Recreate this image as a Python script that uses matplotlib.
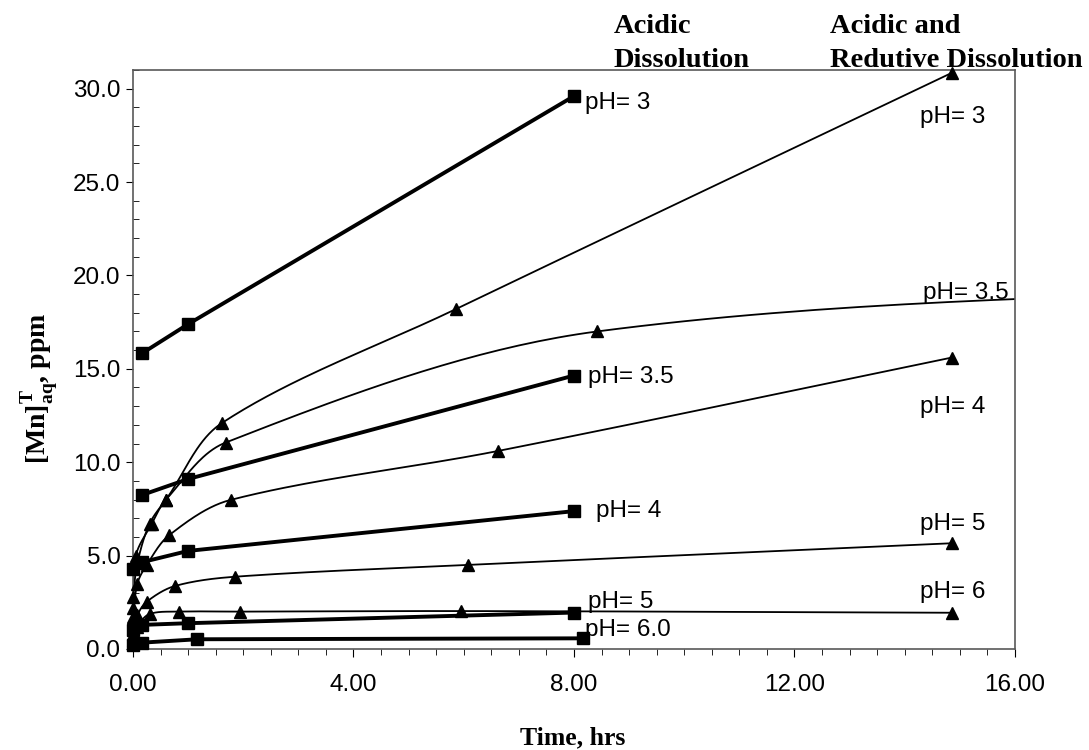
import numpy as np
import matplotlib.pyplot as plt
from matplotlib.ticker import MultipleLocator, FormatStrFormatter

plt.rcParams['mathtext.fontset'] = 'custom'
plt.rcParams['mathtext.rm'] = 'Liberation Serif:bold'

# --- DATA: acidic dissolution (squares, thick lines) ---
sq_x_3 = [0.17, 1.0, 8.0]
sq_y_3 = [15.84, 17.39, 29.6]
sq_x_35 = [0.17, 1.0, 8.0]
sq_y_35 = [8.25, 9.1, 14.64]
sq_x_4 = [0.0, 0.17, 1.0, 8.0]
sq_y_4 = [4.3, 4.65, 5.25, 7.38]
sq_x_5 = [0.0, 0.17, 1.0, 8.0]
sq_y_5 = [1.0, 1.29, 1.38, 1.95]
sq_x_6 = [0.0, 0.17, 1.17, 8.16]
sq_y_6 = [0.2, 0.34, 0.52, 0.57]

# --- DATA: acidic and reductive dissolution (triangles, thin smooth lines) ---
tr_x_3 = [0.0, 0.08, 0.3, 0.6, 1.61, 5.86, 14.85]
tr_y_3 = [2.8, 4.6, 6.7, 8.0, 12.09, 18.2, 30.84]
tr_x_35 = [0.0, 0.05, 0.34, 0.6, 1.68, 8.42, 24.0]
tr_y_35 = [2.2, 4.98, 6.7, 8.0, 11.05, 17.0, 19.7]
tr_x_4 = [0.0, 0.08, 0.25, 0.66, 1.77, 6.62, 14.85]
tr_y_4 = [1.7, 3.5, 4.5, 6.1, 7.98, 10.6, 15.6]
tr_x_5 = [0.0, 0.08, 0.25, 0.76, 1.86, 6.08, 14.85]
tr_y_5 = [0.8, 1.8, 2.53, 3.37, 3.87, 4.5, 5.66]
tr_x_6 = [0.0, 0.08, 0.3, 0.84, 1.95, 5.95, 14.85]
tr_y_6 = [0.5, 1.2, 1.87, 2.0, 2.0, 2.03, 1.94]

sq_labels = ["pH= 3", "pH= 3.5", "pH= 4", "pH= 5", "pH= 6.0"]
tr_labels = ["pH= 3", "pH= 3.5", "pH= 4", "pH= 5", "pH= 6"]

x_ticks = [0, 4, 8, 12, 16]
y_ticks = [0, 5, 10, 15, 20, 25, 30]


def smooth(x, y, n=40, sx=55.1, sy=18.67):
    # cubic Bezier smoothing with chord-weighted tangents (distances in pixel-ish units)
    p = np.column_stack([np.asarray(x, float) * sx, np.asarray(y, float) * sy])
    p = np.vstack([p[0], p, p[-1]])
    t = np.linspace(0, 1, n)[:, None]
    out = []
    for i in range(1, len(p) - 2):
        p0, p1, p2, p3 = p[i - 1], p[i], p[i + 1], p[i + 2]
        d01 = np.hypot(*(p1 - p0)) + 1e-9
        d12 = np.hypot(*(p2 - p1)) + 1e-9
        d23 = np.hypot(*(p3 - p2)) + 1e-9
        c1 = p1 + (p2 - p0) * d12 / (3 * (d01 + d12))
        c2 = p2 - (p3 - p1) * d12 / (3 * (d12 + d23))
        b = (1 - t) ** 3 * p1 + 3 * (1 - t) ** 2 * t * c1 + 3 * (1 - t) * t ** 2 * c2 + t ** 3 * p2
        out.append(b)
    b = np.vstack(out)
    return b[:, 0] / sx, b[:, 1] / sy


fig = plt.figure(figsize=(10.89, 7.5), dpi=100)
ax = fig.add_axes([0.1221, 0.1347, 0.932 - 0.1221, 0.9067 - 0.1347])

sq_series = [(sq_x_3, sq_y_3), (sq_x_35, sq_y_35), (sq_x_4, sq_y_4),
             (sq_x_5, sq_y_5), (sq_x_6, sq_y_6)]
tr_series = [(tr_x_3, tr_y_3), (tr_x_35, tr_y_35), (tr_x_4, tr_y_4),
             (tr_x_5, tr_y_5), (tr_x_6, tr_y_6)]

for x, y in tr_series:
    sx, sy = smooth(x, y)
    ax.plot(sx, sy, color='black', lw=1.3, zorder=2, clip_on=True)
    ax.plot(x, y, ls='none', marker='^', ms=8, color='black', zorder=3, clip_on=False)

for x, y in sq_series:
    ax.plot(x, y, color='black', lw=2.8, marker='s', ms=8, zorder=4, clip_on=False)

# series labels
lab_font = dict(fontsize=17.5, family='Liberation Sans', va='center')
sq_lab_pos = [(8.2, 29.25), (8.25, 14.55), (8.4, 7.4), (8.25, 2.5), (8.2, 1.0)]
for (lx, ly), t in zip(sq_lab_pos, sq_labels):
    ax.text(lx, ly, t, ha='left', **lab_font)
tr_lab_pos = [(14.87, 28.5), (15.1, 19.05), (14.87, 12.95), (14.87, 6.7), (14.87, 3.05)]
for (lx, ly), t in zip(tr_lab_pos, tr_labels):
    ax.text(lx, ly, t, ha='center', **lab_font)

ax.set_xlim(0, 16)
ax.set_ylim(0, 31)
ax.set_xticks(x_ticks)
ax.set_yticks(y_ticks)
ax.xaxis.set_major_formatter(FormatStrFormatter('%.2f'))
ax.yaxis.set_major_formatter(FormatStrFormatter('%.1f'))
ax.xaxis.set_minor_locator(MultipleLocator(0.5))
ax.yaxis.set_minor_locator(MultipleLocator(1))
ax.tick_params(which='both', labelsize=17.5, color='black')
ax.tick_params(axis='x', which='major', direction='out', length=6, pad=12)
ax.tick_params(axis='x', which='minor', direction='out', length=4)
ax.tick_params(axis='y', which='major', direction='out', length=5, pad=4)
ax.tick_params(axis='y', which='minor', direction='in', length=4)
for lab in ax.get_xticklabels() + ax.get_yticklabels():
    lab.set_family('Liberation Sans')
for s in ax.spines.values():
    s.set_color('0.35')
    s.set_linewidth(1.2)

head = dict(family='Liberation Serif', fontweight='bold', fontsize=20.5, va='baseline', ha='left')
fig.text(0.5638, 0.956, "Acidic", **head)
fig.text(0.5638, 0.9107, "Dissolution", **head)
fig.text(0.762, 0.956, "Acidic and", **head)
fig.text(0.762, 0.9107, "Redutive Dissolution", **head)

fig.text(0.526, 0.008, "Time, hrs", family='Liberation Serif', fontweight='bold',
         fontsize=18.5, ha='center', va='baseline')
fig.text(0.037, 0.482, r"$\mathrm{[Mn]}^{\mathrm{T}}_{\mathrm{aq}}$, ppm", family='Liberation Serif',
         fontweight='bold', fontsize=20, ha='center', va='center', rotation=90)

fig.savefig('out.png', dpi=100)
